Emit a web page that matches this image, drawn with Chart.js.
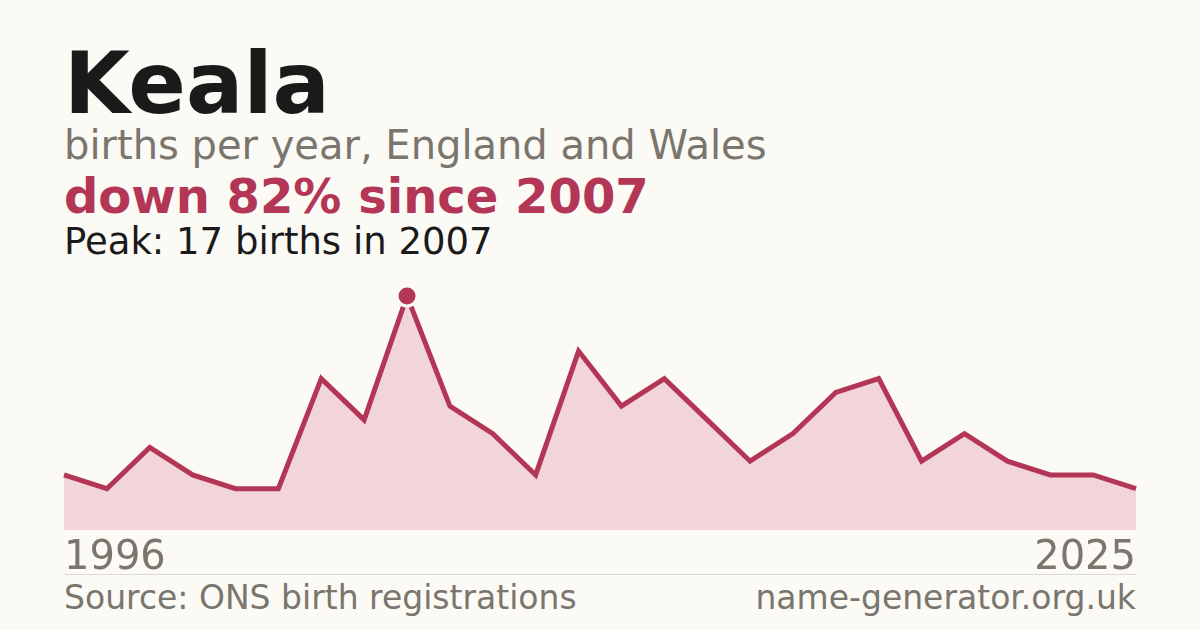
<!DOCTYPE html>
<html lang="en">
<head>
    <meta charset="UTF-8">
    <title>Keala - births per year</title>
    <style>
        html, body { margin: 0; padding: 0; }
        body {
            width: 1200px; height: 630px; overflow: hidden;
            background: #fbfaf5;
            font-family: "DejaVu Sans", sans-serif;
            position: relative;
        }
        .txt { position: absolute; line-height: 1; white-space: nowrap; }
        #title { left: 64px; top: 41px; font-size: 85px; font-weight: bold; color: #1a1a1a; }
        #subtitle { left: 64px; top: 125px; font-size: 40px; color: #7a756d; }
        #change { left: 64px; top: 172px; font-size: 48px; font-weight: bold; color: #b33656; }
        #peak { left: 64px; top: 223px; font-size: 37px; color: #1a1a1a; }
        #firstYear { left: 64px; top: 535px; font-size: 40px; color: #7a756d; }
        #lastYear { right: 64px; top: 535px; font-size: 40px; color: #7a756d; }
        #rule { position: absolute; left: 64px; width: 1072px; top: 574px; height: 1px; background: #dcd9d2; }
        #source { left: 64px; top: 581px; font-size: 33px; color: #7a756d; }
        #site { right: 64px; top: 581px; font-size: 33px; color: #7a756d; }
        .chart-box { position: absolute; left: 0; top: 270px; width: 1200px; height: 270px; }
    </style>
</head>
<body>
    <div class="txt" id="title">Keala</div>
    <div class="txt" id="subtitle">births per year, England and Wales</div>
    <div class="txt" id="change">down 82% since 2007</div>
    <div class="txt" id="peak">Peak: 17 births in 2007</div>

    <div class="chart-box">
        <canvas id="birthsChart"></canvas>
    </div>

    <div class="txt" id="firstYear"></div>
    <div class="txt" id="lastYear"></div>
    <div id="rule"></div>
    <div class="txt" id="source">Source: ONS birth registrations</div>
    <div class="txt" id="site">name-generator.org.uk</div>

    <script src="https://cdn.jsdelivr.net/npm/chart.js"></script>
    <script>
        // years with registered births (low years are not published)
        const years = [1996, 1997, 1998, 1999, 2001, 2002, 2004, 2006, 2007, 2008,
                       2009, 2010, 2012, 2013, 2014, 2015, 2016, 2017, 2018, 2019,
                       2020, 2021, 2022, 2023, 2024, 2025];
        const births = [4, 3, 6, 4, 3, 3, 11, 8, 17, 9,
                        7, 4, 13, 9, 11, 8, 5, 7, 10, 11,
                        5, 7, 5, 4, 4, 3];
        const peakYear = 2007;

        const lineColor = '#b33656';
        const fillColor = '#f2d5da';
        const bgColor = '#fbfaf5';

        document.getElementById('firstYear').textContent = years[0];
        document.getElementById('lastYear').textContent = years[years.length - 1];

        const peakIndex = years.indexOf(peakYear);

        const ctx = document.getElementById('birthsChart').getContext('2d');
        new Chart(ctx, {
            type: 'line',
            data: {
                labels: years,
                datasets: [{
                    data: births,
                    borderColor: lineColor,
                    backgroundColor: fillColor,
                    borderWidth: 5,
                    fill: 'origin',
                    tension: 0,
                    pointRadius: years.map((y, i) => i === peakIndex ? 10 : 0),
                    pointBackgroundColor: lineColor,
                    pointBorderColor: bgColor,
                    pointBorderWidth: 3,
                    clip: false
                }]
            },
            options: {
                responsive: true,
                maintainAspectRatio: false,
                animation: false,
                layout: { padding: { left: 64, right: 64, top: 26, bottom: 10 } },
                scales: {
                    x: { display: false, offset: false },
                    y: { display: false, min: 0, max: 17 }
                },
                plugins: {
                    legend: { display: false },
                    tooltip: { enabled: false }
                }
            }
        });
    </script>
</body>
</html>
